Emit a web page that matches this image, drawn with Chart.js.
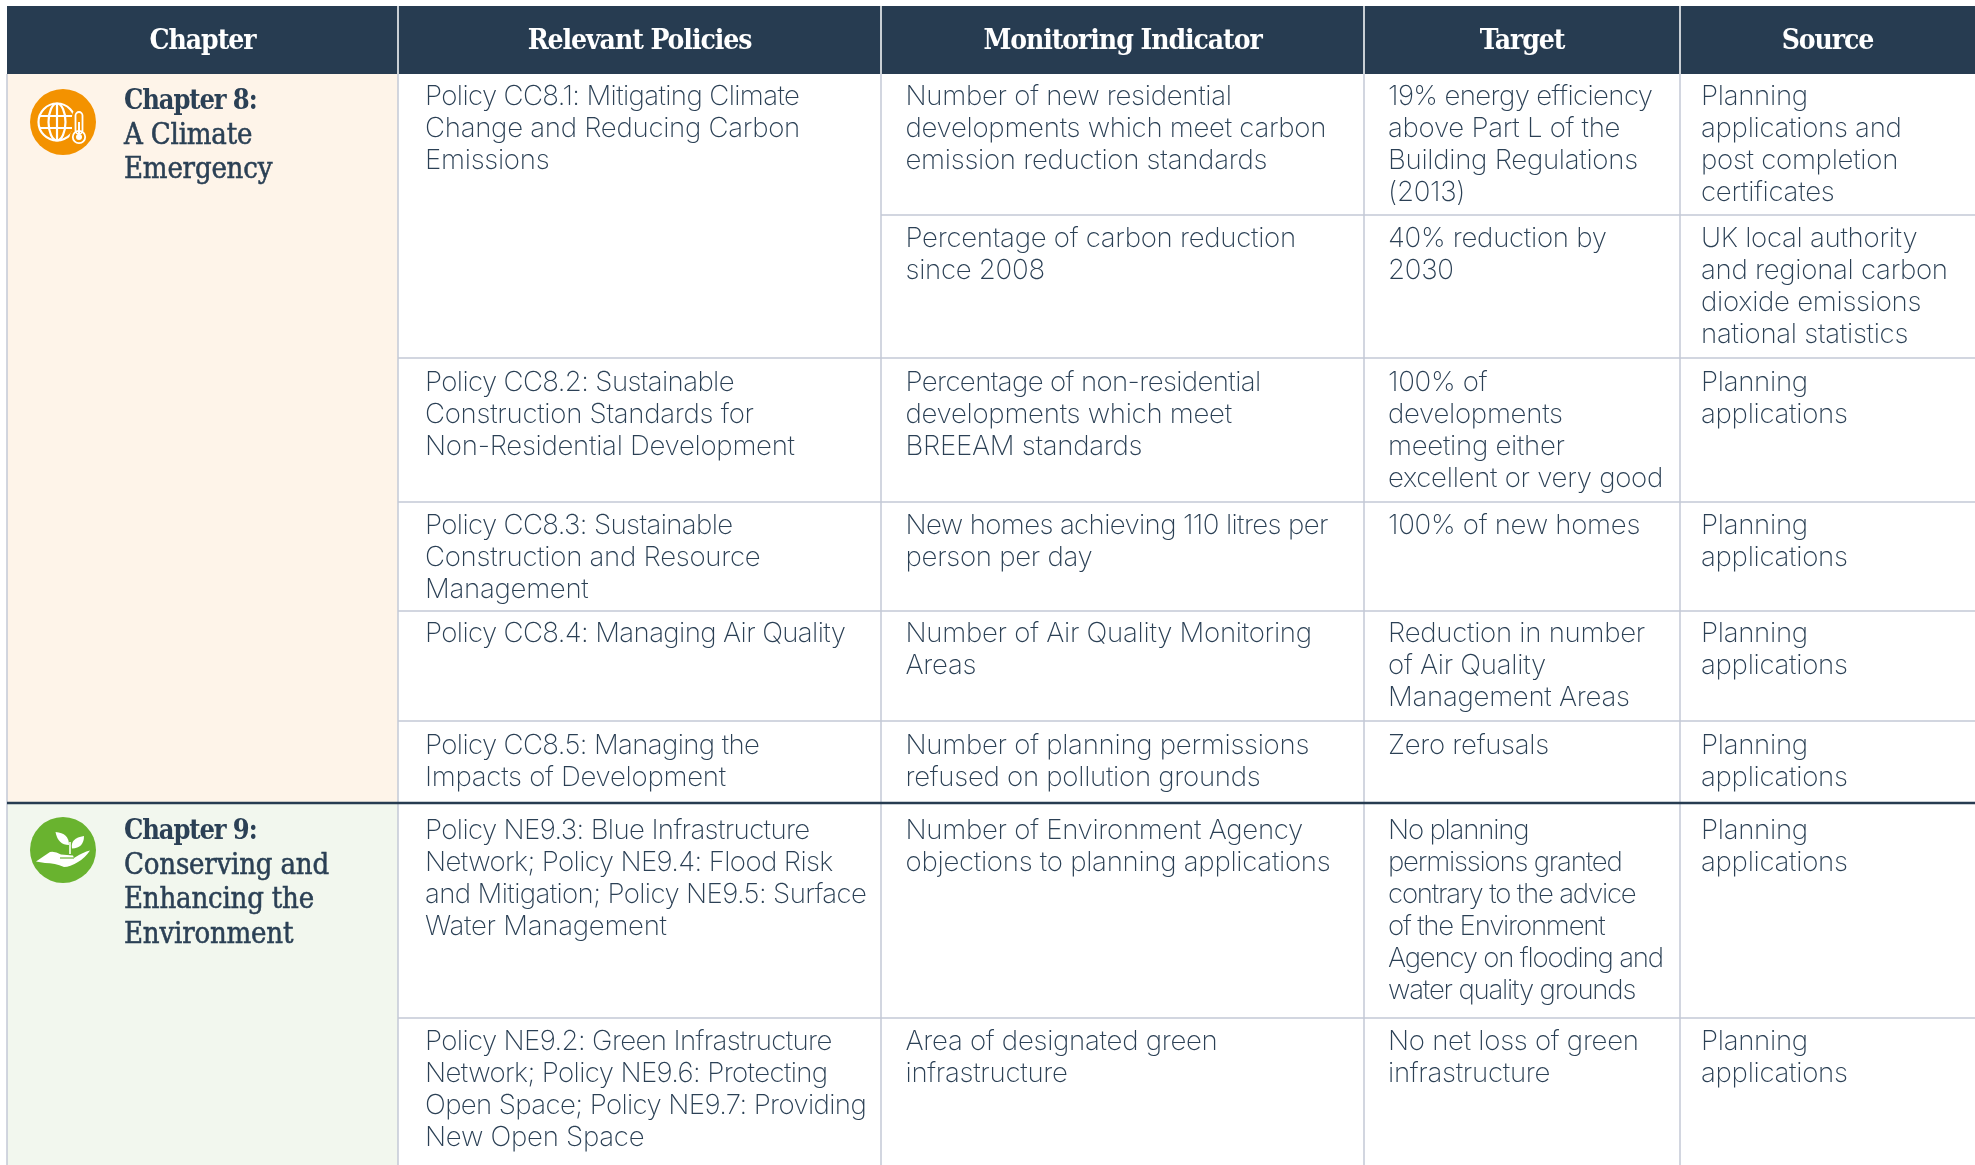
<!DOCTYPE html>
<html>
<head>
<meta charset="utf-8">
<title>Monitoring framework</title>
<script src="https://cdn.jsdelivr.net/npm/chart.js@4"></script>
<style>
  html, body { margin: 0; padding: 0; background: #fff; }
  canvas { display: block; }
</style>
</head>
<body>
<canvas id="tableChart" width="1975" height="1165"></canvas>
<script>
const headers = ["Chapter", "Relevant Policies", "Monitoring Indicator", "Target", "Source"];

const chapterTitles = [
  ["Chapter 8:", "A Climate", "Emergency"],
  ["Chapter 9:", "Conserving and", "Enhancing the", "Environment"],
];

const policies = [
  ["Policy CC8.1: Mitigating Climate", "Change and Reducing Carbon", "Emissions"],
  [],
  ["Policy CC8.2: Sustainable", "Construction Standards for", "Non-Residential Development"],
  ["Policy CC8.3: Sustainable", "Construction and Resource", "Management"],
  ["Policy CC8.4: Managing Air Quality"],
  ["Policy CC8.5: Managing the", "Impacts of Development"],
  ["Policy NE9.3: Blue Infrastructure", "Network; Policy NE9.4: Flood Risk", "and Mitigation; Policy NE9.5: Surface", "Water Management"],
  ["Policy NE9.2: Green Infrastructure", "Network; Policy NE9.6: Protecting", "Open Space; Policy NE9.7: Providing", "New Open Space"],
];

const indicators = [
  ["Number of new residential", "developments which meet carbon", "emission reduction standards"],
  ["Percentage of carbon reduction", "since 2008"],
  ["Percentage of non-residential", "developments which meet", "BREEAM standards"],
  ["New homes achieving 110 litres per", "person per day"],
  ["Number of Air Quality Monitoring", "Areas"],
  ["Number of planning permissions", "refused on pollution grounds"],
  ["Number of Environment Agency", "objections to planning applications"],
  ["Area of designated green", "infrastructure"],
];

const targets = [
  ["19% energy efficiency", "above Part L of the", "Building Regulations", "(2013)"],
  ["40% reduction by", "2030"],
  ["100% of", "developments", "meeting either", "excellent or very good"],
  ["100% of new homes"],
  ["Reduction in number", "of Air Quality", "Management Areas"],
  ["Zero refusals"],
  ["No planning", "permissions granted", "contrary to the advice", "of the Environment", "Agency on flooding and", "water quality grounds"],
  ["No net loss of green", "infrastructure"],
];

const sources = [
  ["Planning", "applications and", "post completion", "certificates"],
  ["UK local authority", "and regional carbon", "dioxide emissions", "national statistics"],
  ["Planning", "applications"],
  ["Planning", "applications"],
  ["Planning", "applications"],
  ["Planning", "applications"],
  ["Planning", "applications"],
  ["Planning", "applications"],
];

// layout of the table, in scale units
const W = 1975, H = 1165;
const columnEdges = [7, 398, 881, 1364, 1680, W];
const rowEdges = [74, 215, 358, 502, 611, 721, 803, 1018, H];
const headerTop = 6;
const headerBaseline = 49;
const rowBaselines = [105, 247, 391, 533.5, 642, 754, 839, 1050];
const textLefts = [124, 425, 905.5, 1388, 1701];
const chapterBaselines = [109, 839];
const chapterCentres = [{ x: 63, y: 122 }, { x: 63, y: 850 }];

const NAVY = "#273c51";
const TEXT = "#2b4055";
const RULE = "#c3c9d6";
const LINE_H = 32;
const CHAPTER_LINE_H = 34.5;

function rect(x0, x1, y0, y1, color) {
  return {
    data: [{ x: x0, y: y0 }, { x: x1, y: y0 }, { x: x1, y: y1 }, { x: x0, y: y1 }, { x: x0, y: y0 }],
    borderWidth: 0, pointRadius: 0, fill: "shape", backgroundColor: color, tension: 0,
  };
}

function rule(x0, y0, x1, y1, color, width) {
  return {
    data: [{ x: x0, y: y0 }, { x: x1, y: y1 }],
    borderColor: color, borderWidth: width, pointRadius: 0, fill: false, tension: 0,
  };
}

// white glyphs that sit on the chapter circles
function globeGlyph() {
  const c = document.createElement("canvas");
  c.width = c.height = 66;
  const g = c.getContext("2d");
  g.translate(33, 33);
  g.strokeStyle = g.fillStyle = "#fff";
  g.lineWidth = 2.2;
  g.beginPath(); g.arc(-6, 0, 18.5, 0, Math.PI * 2); g.stroke();
  g.beginPath(); g.ellipse(-6, 0, 8.5, 18.5, 0, 0, Math.PI * 2); g.stroke();
  g.beginPath();
  g.moveTo(-6, -18.5); g.lineTo(-6, 18.5);
  g.moveTo(-24, -6); g.lineTo(12, -6);
  g.moveTo(-24, 6); g.lineTo(12, 6);
  g.stroke();
  // thermometer, with an orange halo to cut it out of the globe
  g.fillStyle = "#f39200";
  g.beginPath(); g.roundRect(9, -13, 14, 30, 7); g.fill();
  g.beginPath(); g.arc(16, 15, 9.5, 0, Math.PI * 2); g.fill();
  g.fillStyle = "#fff";
  g.lineWidth = 1.8;
  g.beginPath(); g.roundRect(12.5, -10, 7, 22, 3.5); g.stroke();
  g.beginPath(); g.arc(16, 15, 6.2, 0, Math.PI * 2); g.stroke();
  g.beginPath(); g.arc(16, 15, 3, 0, Math.PI * 2); g.fill();
  g.fillRect(15, 0, 2, 13);
  return c;
}

function plantGlyph() {
  const c = document.createElement("canvas");
  c.width = c.height = 66;
  const g = c.getContext("2d");
  g.translate(33, 33);
  g.fillStyle = g.strokeStyle = "#fff";
  g.beginPath();
  g.moveTo(-7.5, -18); g.quadraticCurveTo(6, -17, 6, -5); g.quadraticCurveTo(-5, -5, -7.5, -18);
  g.fill();
  g.beginPath();
  g.moveTo(21, -14); g.quadraticCurveTo(21, -2, 9, -1.5); g.quadraticCurveTo(7, -12, 21, -14);
  g.fill();
  g.lineWidth = 1.6;
  g.beginPath(); g.moveTo(7, -8); g.lineTo(7, 4); g.stroke();
  g.beginPath();
  g.moveTo(-27, 11.5);
  g.quadraticCurveTo(-19, 6, -13, 2);
  g.quadraticCurveTo(-8, 1, -2, 4.5);
  g.lineTo(10, 5.5);
  g.lineTo(11, 8);
  g.quadraticCurveTo(20, 2, 27, 0.5);
  g.quadraticCurveTo(22, 8, 15, 12);
  g.quadraticCurveTo(7, 17, 1, 17);
  g.quadraticCurveTo(-8, 13, -18, 13);
  g.closePath();
  g.fill();
  g.strokeStyle = "#69b32f";
  g.lineWidth = 1.2;
  g.beginPath(); g.moveTo(-3, 8); g.lineTo(11, 8); g.stroke();
  return c;
}

const bodyFont = '200 27.6px "Inter", sans-serif';
const headFont = 'bold 28px "DejaVu Serif Condensed", serif';
const chapterHeadFont = 'bold 27px "DejaVu Serif Condensed", serif';
const chapterFont = '29px "DejaVu Serif Condensed", serif';

// tracking per line: figures sit much tighter in the original than in Inter
function bodyTracking(line, column, row) {
  if (column === 2 && row === 6) return "-1.2px";
  return /Policy|19%|110|non-res/.test(line) ? "-0.62px" : "-0.28px";
}

const tableText = {
  id: "tableText",
  afterDatasetsDraw(chart) {
    const { ctx, scales: { x, y } } = chart;
    ctx.save();
    ctx.textBaseline = "alphabetic";

    // header labels, centred in their columns
    ctx.fillStyle = "#fff";
    ctx.font = headFont;
    ctx.textAlign = "center";
    ctx.letterSpacing = "-1.05px";
    headers.forEach((label, i) => {
      const mid = (columnEdges[i] + columnEdges[i + 1]) / 2;
      ctx.fillText(label, x.getPixelForValue(mid), y.getPixelForValue(headerBaseline));
    });

    ctx.textAlign = "left";
    ctx.fillStyle = TEXT;
    ctx.strokeStyle = TEXT;
    ctx.lineWidth = 0.5;
    chapterTitles.forEach((lines, i) => {
      lines.forEach((line, j) => {
        const px = x.getPixelForValue(textLefts[0]);
        const py = y.getPixelForValue(chapterBaselines[i] + j * CHAPTER_LINE_H);
        ctx.font = j === 0 ? chapterHeadFont : chapterFont;
        ctx.letterSpacing = j === 0 ? "-1.1px" : "-0.2px";
        ctx.fillText(line, px, py);
        // the original slab is a touch heavier than the regular weight here
        if (j > 0) ctx.strokeText(line, px, py);
      });
    });

    ctx.font = bodyFont;
    [policies, indicators, targets, sources].forEach((column, c) => {
      column.forEach((lines, r) => {
        lines.forEach((line, j) => {
          ctx.letterSpacing = bodyTracking(line, c, r);
          ctx.fillText(line, x.getPixelForValue(textLefts[c + 1]),
            y.getPixelForValue(rowBaselines[r] + j * LINE_H));
        });
      });
    });
    ctx.restore();
  },
};

const datasets = [
  rect(columnEdges[0], W, headerTop, rowEdges[0], NAVY),
  rect(columnEdges[0], columnEdges[1], rowEdges[0], rowEdges[6], "#fef4e9"),
  rect(columnEdges[0], columnEdges[1], rowEdges[6], H, "#f2f7ee"),
];

// vertical rules, white across the header and grey below it
columnEdges.slice(0, 5).forEach((edge, i) => {
  if (i > 0) datasets.push(rule(edge, headerTop, edge, rowEdges[0], "#ffffff", 1.5));
  datasets.push(rule(edge, rowEdges[0], edge, H, RULE, 1.5));
});

// the first policy spans two rows, so its inner rule starts one column over
rowEdges.slice(1, 7).forEach((edge, i) => {
  if (i === 5) return;
  const from = i === 0 ? columnEdges[2] : columnEdges[1];
  datasets.push(rule(from, edge, W, edge, RULE, 1.5));
});
datasets.push(rule(columnEdges[1], rowEdges[7], W, rowEdges[7], RULE, 1.5));
datasets.push(rule(columnEdges[0], rowEdges[6], W, rowEdges[6], NAVY, 2.5));

// chapter circles and their glyphs
datasets.push({
  data: chapterCentres,
  showLine: false,
  pointStyle: "circle",
  pointRadius: 33,
  pointBorderWidth: 0,
  pointBackgroundColor: ["#f39200", "#69b32f"],
});
datasets.push({
  data: chapterCentres,
  showLine: false,
  pointRadius: 33,
  pointStyle: [globeGlyph(), plantGlyph()],
});

// chart.js paints the first dataset last, so later marks need a lower order
datasets.forEach((d, i) => { d.order = datasets.length - i; });

new Chart(document.getElementById("tableChart").getContext("2d"), {
  type: "line",
  data: { datasets },
  plugins: [tableText],
  options: {
    responsive: false,
    animation: false,
    layout: { padding: 0, autoPadding: false },
    events: [],
    plugins: { legend: { display: false }, tooltip: { enabled: false }, title: { display: false } },
    scales: {
      x: { type: "linear", min: 0, max: W, display: false },
      y: { type: "linear", min: 0, max: H, reverse: true, display: false },
    },
  },
});
</script>
</body>
</html>
